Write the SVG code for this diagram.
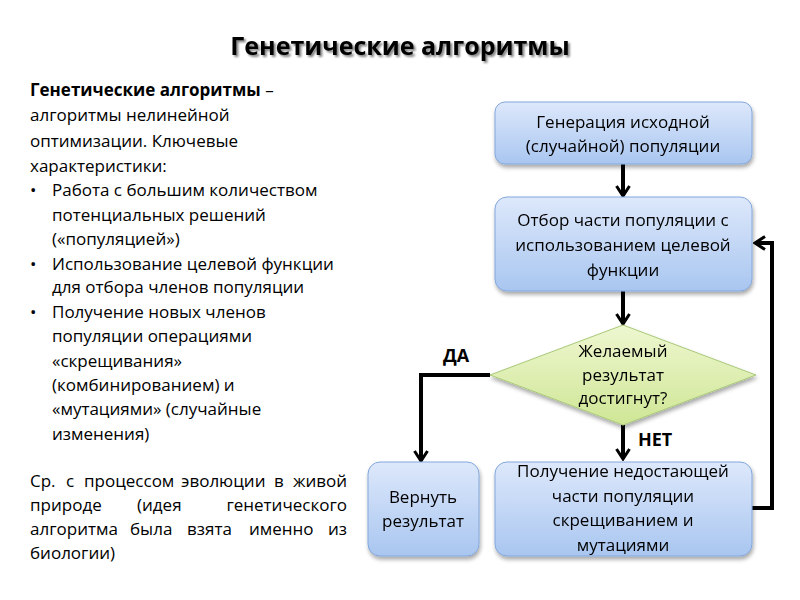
<svg xmlns="http://www.w3.org/2000/svg" width="800" height="600" viewBox="0 0 800 600">
<defs>
<linearGradient id="gb" x1="0" y1="0" x2="0" y2="1">
<stop offset="0" stop-color="#dde8fb"/>
<stop offset="1" stop-color="#a9c6f0"/>
</linearGradient>
<linearGradient id="gg" x1="0" y1="0" x2="0" y2="1">
<stop offset="0" stop-color="#eef7d0"/>
<stop offset="1" stop-color="#cfe695"/>
</linearGradient>
<filter id="sh" x="-10%" y="-10%" width="130%" height="140%">
<feGaussianBlur in="SourceAlpha" stdDeviation="2"/>
<feOffset dx="1" dy="3"/>
<feComponentTransfer><feFuncA type="linear" slope="0.35"/></feComponentTransfer>
<feMerge><feMergeNode/><feMergeNode in="SourceGraphic"/></feMerge>
</filter>
<filter id="tsh" x="-5%" y="-20%" width="110%" height="150%">
<feGaussianBlur in="SourceAlpha" stdDeviation="1.2"/>
<feOffset dx="2" dy="2"/>
<feComponentTransfer><feFuncA type="linear" slope="0.5"/></feComponentTransfer>
<feMerge><feMergeNode/><feMergeNode in="SourceGraphic"/></feMerge>
</filter>
<marker id="ah" viewBox="0 0 14 16" refX="12" refY="8" markerWidth="14" markerHeight="16" markerUnits="userSpaceOnUse" orient="auto">
<path d="M2,1.5 L12,8 L2,14.5" fill="none" stroke="#000" stroke-width="3"/>
</marker>
</defs>
<style>
text{font-family:"Open Sans","Noto Sans","DejaVu Sans",sans-serif;fill:#000}
.body{font-size:17px}
.node{font-size:17px;text-anchor:middle}
.box{fill:url(#gb);stroke:#82a7dc;stroke-width:1}
.dia{fill:url(#gg);stroke:#a9c97a;stroke-width:1}
.lbl{font-size:18px;font-weight:bold}
.con{fill:none;stroke:#000;stroke-width:4;marker-end:url(#ah)}
.e{text-anchor:end}
</style>
<rect width="800" height="600" fill="#fff"/>
<text x="400" y="55" text-anchor="middle" font-size="25" font-weight="bold" filter="url(#tsh)">Генетические алгоритмы</text>
<g id="description" class="body">
<text x="30" y="96"><tspan font-weight="bold">Генетические алгоритмы</tspan> –</text>
<text x="30" y="121">алгоритмы нелинейной</text>
<text x="30" y="147">оптимизации. Ключевые</text>
<text x="30" y="172">характеристики:</text>
<text x="30" y="196">•</text><text x="52" y="196">Работа с большим количеством</text>
<text x="52" y="221">потенциальных решений</text>
<text x="52" y="245">(«популяцией»)</text>
<text x="30" y="270">•</text><text x="52" y="270">Использование целевой функции</text>
<text x="52" y="293">для отбора членов популяции</text>
<text x="30" y="318">•</text><text x="52" y="318">Получение новых членов</text>
<text x="52" y="342">популяции операциями</text>
<text x="52" y="367">«скрещивания»</text>
<text x="52" y="391">(комбинированием) и</text>
<text x="52" y="415">«мутациями» (случайные</text>
<text x="52" y="440">изменения)</text>
<text x="30" y="487">Ср.</text><text x="66" y="487">с</text><text x="84" y="487">процессом</text><text x="181" y="487">эволюции</text><text x="274" y="487">в</text><text class="e" x="347" y="487">живой</text>
<text x="30" y="511">природе</text><text x="137" y="511">(идея</text><text class="e" x="347" y="511">генетического</text>
<text x="30" y="535">алгоритма</text><text x="130" y="535">была</text><text x="187" y="535">взята</text><text x="249" y="535">именно</text><text class="e" x="347" y="535">из</text>
<text x="30" y="559">биологии)</text>
</g>
<g id="connectors">
<path class="con" d="M623,164 V196"/>
<path class="con" d="M623,291 V324"/>
<path class="con" d="M490,375 H421 V461"/>
<path class="con" d="M623,425 V459"/>
<path class="con" d="M752,508 H772 V243 H755"/>
<text class="lbl" x="443" y="362">ДА</text>
<text class="lbl" x="638" y="446">НЕТ</text>
</g>
<g id="n1" filter="url(#sh)">
<rect class="box" x="495" y="102" width="257" height="62" rx="10"/>
<text class="node" x="623" y="128">Генерация исходной</text>
<text class="node" x="623" y="152">(случайной) популяции</text>
</g>
<g id="n2" filter="url(#sh)">
<rect class="box" x="495" y="197" width="257" height="94" rx="12"/>
<text class="node" x="623" y="226">Отбор части популяции с</text>
<text class="node" x="623" y="251">использованием целевой</text>
<text class="node" x="623" y="276">функции</text>
</g>
<g id="n3" filter="url(#sh)">
<path class="dia" d="M623,325 L756,375 L623,425 L490,375 Z"/>
<text class="node" x="623" y="357">Желаемый</text>
<text class="node" x="623" y="381">результат</text>
<text class="node" x="623" y="404">достигнут?</text>
</g>
<g id="n4" filter="url(#sh)">
<rect class="box" x="368" y="462" width="111" height="94" rx="12"/>
<text class="node" x="423" y="503">Вернуть</text>
<text class="node" x="423" y="527">результат</text>
</g>
<g id="n5" filter="url(#sh)">
<rect class="box" x="495" y="462" width="257" height="94" rx="12"/>
<text class="node" x="623" y="477">Получение недостающей</text>
<text class="node" x="623" y="502">части популяции</text>
<text class="node" x="623" y="526">скрещиванием и</text>
<text class="node" x="623" y="551">мутациями</text>
</g>
</svg>
